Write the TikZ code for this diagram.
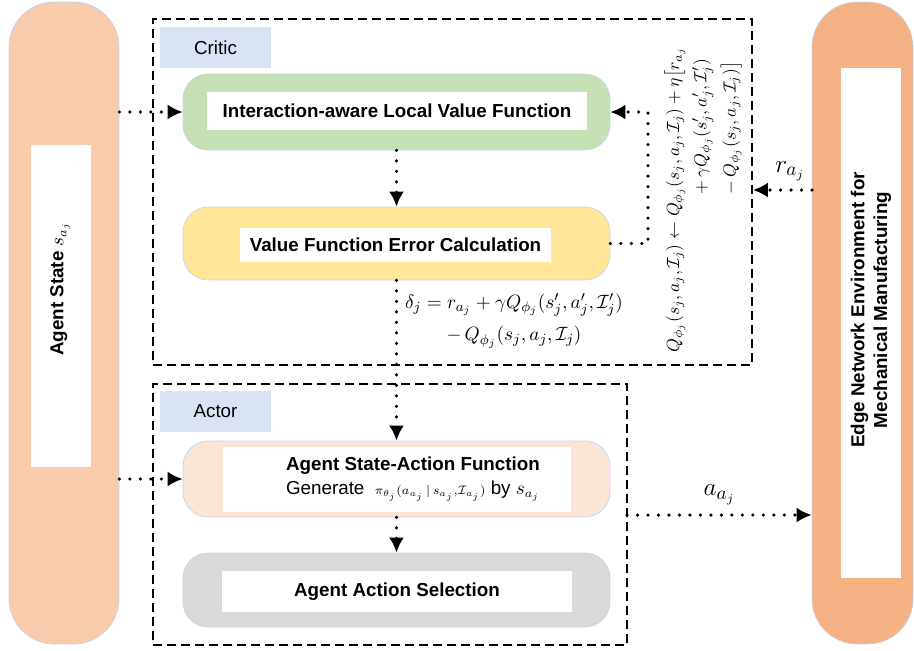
\documentclass[tikz,border=0pt]{standalone}
\usepackage{amsmath}
\usepackage{fontspec}
\setmainfont{Liberation Sans}
\usetikzlibrary{arrows.meta}

\definecolor{statefill}{HTML}{F8CBAD}
\definecolor{envfill}{HTML}{F4B183}
\definecolor{valuefill}{HTML}{C5E0B4}
\definecolor{errorfill}{HTML}{FFE699}
\definecolor{policyfill}{HTML}{FBE5D6}
\definecolor{selectfill}{HTML}{D9D9D9}
\definecolor{tagfill}{HTML}{DAE3F3}
\definecolor{rimline}{HTML}{C9D3E8}

\tikzset{
	pillar/.style={draw=rimline, thin, rounded corners=0.9cm, minimum height=12.84cm, inner sep=0pt},
	stage/.style={draw=rimline, thin, rounded corners=0.5cm, minimum width=8.54cm, inner sep=0pt},
	whitebox/.style={fill=white, inner sep=0pt, font=\fontsize{10.7}{13}\selectfont\bfseries},
	boxtext/.style={inner sep=0pt, font=\fontsize{10.7}{13}\selectfont\bfseries},
	tag/.style={fill=tagfill, minimum width=2.22cm, minimum height=0.82cm, inner sep=0pt, font=\fontsize{10.7}{13}\selectfont},
	group/.style={draw, line width=1pt, dash pattern=on 1.8mm off 1mm, inner sep=0pt},
	flow/.style={line width=2pt, dash pattern=on 0pt off 2.1mm, line cap=round, -{Latex[length=3mm,width=3mm]}},
	eq/.style={inner sep=1pt, font=\fontsize{11.3}{13.5}\selectfont},
	tall/.style={inner sep=1pt, font=\fontsize{15}{17}\selectfont}
}

\begin{document}
\begin{tikzpicture}[x=0.02cm, y=-0.02cm]
	\useasboundingbox (0,0) rectangle (914,650);
	% side columns
	\node[pillar, fill=statefill, minimum width=2.2cm] (agent) at (64,323) {};
	\node[fill=white, minimum width=1.2cm, minimum height=6.44cm] (agentin) at (61,306) {};
	\node[boxtext, rotate=90] (agenttxt) at (60,289) {Agent State $s_{a_j}$};
	\node[pillar, fill=envfill, minimum width=2.02cm] (env) at (862.5,323) {};
	\node[fill=white, minimum width=1.2cm, minimum height=10.2cm] (envin) at (871,323) {};
	\node[boxtext, rotate=90, align=center] (envtxt) at (871,310) {Edge Network Environment for\\Mechanical Manufacturing};

	% critic and actor groups
	\node[group, minimum width=11.98cm, minimum height=6.92cm] (critic) at (452.5,192) {};
	\node[group, minimum width=9.48cm, minimum height=5.22cm] (actor) at (390,514.5) {};
	\node[tag] (critictag) at (215.5,47.5) {Critic};
	\node[tag] (actortag) at (215.5,411) {Actor};

	% stages
	\node[stage, fill=valuefill, minimum height=1.52cm] (valfn) at (396.5,112) {};
	\node[whitebox, minimum width=7.6cm, minimum height=0.76cm] (valfnin) at (397,111) {Interaction-aware Local Value Function};
	\node[stage, fill=errorfill, minimum height=1.46cm] (errcalc) at (396.5,243.5) {};
	\node[whitebox, minimum width=6.22cm, minimum height=0.68cm] (errcalcin) at (395.5,245) {Value Function Error Calculation};
	\node[stage, fill=policyfill, minimum height=1.52cm] (policy) at (396.5,479) {};
	\node[whitebox, minimum width=6.96cm, minimum height=1.3cm] (policyin) at (397,479.5) {};
	\node[boxtext, align=center] (policytxt) at (413,479) {Agent State-Action Function\\[1pt]
		{\mdseries Generate \ $\scriptstyle\pi_{\theta_j}(a_{a_j}\,\mid\, s_{a_j},\mathcal{I}_{a_j})$ by $s_{a_j}$}};
	\node[stage, fill=selectfill, minimum height=1.48cm] (select) at (396.5,590) {};
	\node[whitebox, minimum width=7cm, minimum height=0.82cm] (selectin) at (397,591.5) {Agent Action Selection};

	% connectors
	\draw[flow] (agent.east |- valfn.west) -- (valfn.west);
	\draw[flow] (valfn.south) -- (errcalc.north);
	\coordinate (loop) at (648,112);
	\draw[flow] (errcalc.east) -| (loop) -- (valfn.east);
	\coordinate (rin) at (812,190);
	\draw[flow] (rin) -- (critic.east |- rin) node[tall, pos=0.37, above=3pt] {$r_{a_j}$};
	\draw[flow] (errcalc.south) -- (policy.north);
	\draw[flow] (agent.east |- policy.west) -- (policy.west);
	\draw[flow] (policy.south) -- (select.north);
	\coordinate (aout) at (627,515);
	\draw[flow] (aout) -- (env.west |- aout) node[tall, midway, above=4pt] {$a_{a_j}$};

	% formulas
	\node[eq, align=center] (tderr) at (514,321) {$\delta_j = r_{a_j} + \gamma Q_{\phi_j}(s'_j, a'_j, \mathcal{I}'_j)$\\[5pt]
		$-\,Q_{\phi_j}(s_j, a_j, \mathcal{I}_j)$};
	\node[eq, rotate=90, font=\fontsize{10.3}{12.5}\selectfont] (update) at (703,200) {$\begin{aligned}
		Q_{\phi_j}(s_j,a_j,\mathcal{I}_j) \leftarrow{} & Q_{\phi_j}(s_j,a_j,\mathcal{I}_j) + \eta\big[r_{a_j}\\
		&\quad +\gamma Q_{\phi_j}(s'_j,a'_j,\mathcal{I}'_j)\\
		&\quad - Q_{\phi_j}(s_j,a_j,\mathcal{I}_j)\big]
	\end{aligned}$};
\end{tikzpicture}
\end{document}
